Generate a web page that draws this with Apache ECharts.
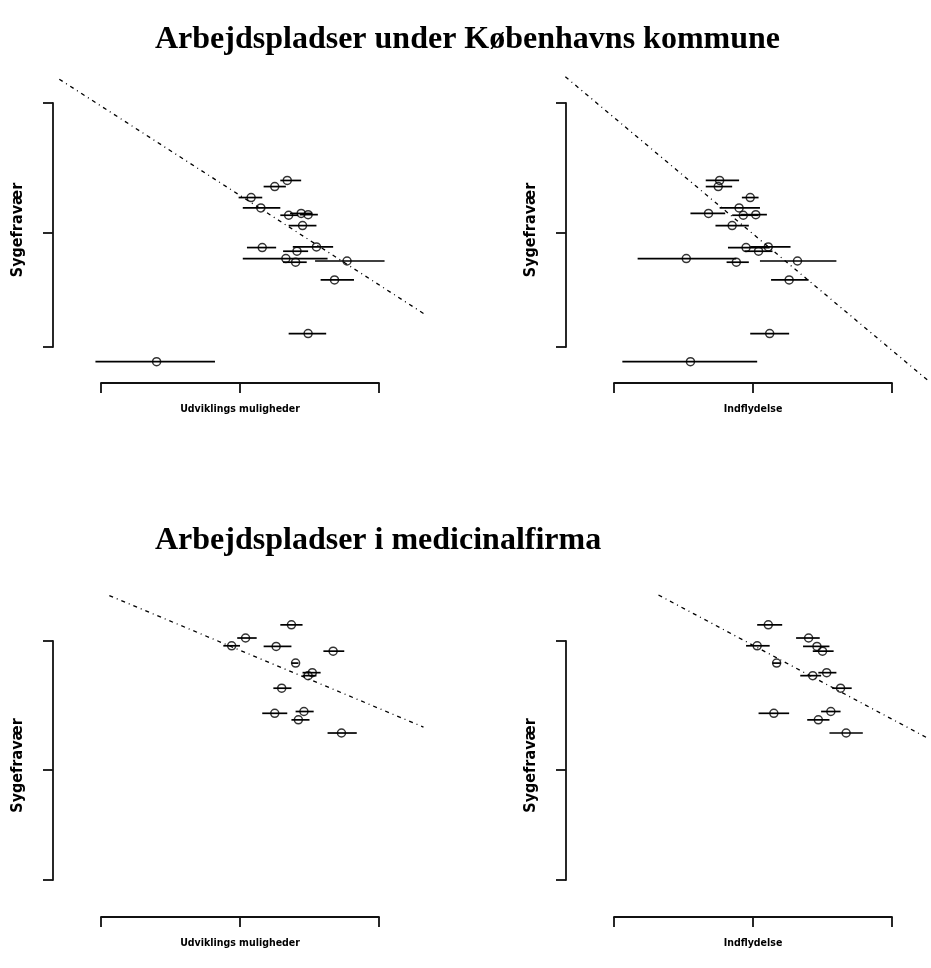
<!DOCTYPE html>
<html>
<head>
<meta charset="utf-8">
<script src="https://cdn.jsdelivr.net/npm/echarts@6/dist/echarts.min.js"></script>
<style>html,body{margin:0;padding:0;background:#fff;}#c{width:931px;height:968px;}</style>
</head>
<body>
<div id="c"></div>
<script>
// ---- Data ----
var titles = ['Arbejdspladser under Københavns kommune', 'Arbejdspladser i medicinalfirma'];
var xNames = ['Udviklings muligheder', 'Indflydelse'];
var yName = 'Sygefravær';
var xTicks = [2, 3, 4];
var yTicksTop = [3, 4.87, 7];
var yTicksBot = [3, 4.84, 7];

// Top row (Københavns kommune): shared sick-leave values
var topY = [5.73,5.63,5.45,5.28,5.19,5.16,5.17,4.99,4.63,4.64,4.57,4.45,4.39,4.41,4.10,3.22,2.76];
var udvTopX  = [3.34,3.25,3.08,3.15,3.44,3.35,3.49,3.45,3.16,3.55,3.41,3.33,3.40,3.77,3.68,3.49,2.40];
var udvTopLo = [3.29,3.17,2.99,3.02,3.36,3.29,3.43,3.35,3.05,3.38,3.31,3.02,3.31,3.54,3.58,3.35,1.96];
var udvTopHi = [3.44,3.33,3.16,3.29,3.52,3.42,3.56,3.55,3.26,3.67,3.49,3.63,3.48,4.04,3.82,3.62,2.82];
var indTopX  = [2.76,2.75,2.98,2.90,2.68,2.93,3.02,2.85,2.95,3.11,3.04,2.52,2.88,3.32,3.26,3.12,2.55];
var indTopLo = [2.66,2.66,2.92,2.76,2.55,2.85,2.91,2.73,2.82,2.98,2.94,2.17,2.81,3.05,3.13,2.98,2.06];
var indTopHi = [2.90,2.85,3.04,3.05,2.80,3.04,3.10,2.97,3.12,3.27,3.14,2.88,2.97,3.60,3.40,3.26,3.03];

// Bottom row (medicinalfirma)
var botY = [7.27,7.05,6.92,6.91,6.83,6.63,6.47,6.42,6.21,5.82,5.79,5.68,5.46];
var udvBotX  = [3.37,3.04,2.94,3.26,3.67,3.40,3.52,3.49,3.30,3.46,3.25,3.42,3.73];
var udvBotLo = [3.29,2.98,2.88,3.17,3.60,3.37,3.45,3.45,3.24,3.40,3.16,3.37,3.63];
var udvBotHi = [3.45,3.12,3.00,3.37,3.75,3.42,3.58,3.55,3.37,3.53,3.34,3.50,3.84];
var indBotX  = [3.11,3.40,3.03,3.46,3.50,3.17,3.53,3.43,3.63,3.56,3.15,3.47,3.67];
var indBotLo = [3.03,3.31,2.95,3.36,3.43,3.14,3.47,3.34,3.57,3.49,3.04,3.39,3.55];
var indBotHi = [3.21,3.48,3.12,3.55,3.58,3.20,3.60,3.49,3.71,3.63,3.26,3.55,3.79];

// Fitted lines (end points): [x1, y1, x2, y2]
var udvTopFit = [1.70, 7.39, 4.32, 3.55];
var indTopFit = [1.65, 7.43, 4.27, 2.43];
var udvBotFit = [2.06, 7.76, 4.32, 5.56];
var indBotFit = [2.32, 7.77, 4.26, 5.37];

// ---- Build ----
var panels = [
  {grid:{left:101, top:103, width:278, height:244}, xOff:36, name:xNames[0], yt:yTicksTop, y:topY, x:udvTopX, lo:udvTopLo, hi:udvTopHi, fit:udvTopFit},
  {grid:{left:614, top:103, width:278, height:244}, xOff:36, name:xNames[1], yt:yTicksTop, y:topY, x:indTopX, lo:indTopLo, hi:indTopHi, fit:indTopFit},
  {grid:{left:101, top:641, width:278, height:239}, xOff:37, name:xNames[0], yt:yTicksBot, y:botY, x:udvBotX, lo:udvBotLo, hi:udvBotHi, fit:udvBotFit},
  {grid:{left:614, top:641, width:278, height:239}, xOff:37, name:xNames[1], yt:yTicksBot, y:botY, x:indBotX, lo:indBotLo, hi:indBotHi, fit:indBotFit}
];

var axisCol = '#111';
var labelFont = "'DejaVu Sans Condensed', 'Liberation Sans', Arial, sans-serif";
var grids = [], xAxes = [], yAxes = [], series = [];
panels.forEach(function(p, i){
  grids.push(p.grid);
  xAxes.push({
    type:'value', gridIndex:i, min:xTicks[0], max:xTicks[xTicks.length-1], interval:1,
    offset:p.xOff, position:'bottom',
    axisLine:{show:true, lineStyle:{color:axisCol, width:1.8}},
    axisTick:{show:true, length:10, customValues:xTicks, lineStyle:{color:axisCol, width:1.8}},
    axisLabel:{show:false}, splitLine:{show:false},
    name:p.name, nameLocation:'middle', nameGap:21,
    nameTextStyle:{fontFamily:labelFont, fontWeight:'bold', fontSize:10.5, color:'#000'}
  });
  yAxes.push({
    type:'value', gridIndex:i, min:p.yt[0], max:p.yt[p.yt.length-1],
    offset:48, position:'left',
    axisLine:{show:true, lineStyle:{color:axisCol, width:1.8}},
    axisTick:{show:true, length:10, customValues:p.yt, lineStyle:{color:axisCol, width:1.8}},
    axisLabel:{show:false}, splitLine:{show:false},
    name:yName, nameLocation:'middle', nameGap:27,
    nameTextStyle:{fontFamily:labelFont, fontWeight:'bold', fontSize:16, color:'#000', padding:[0,10,0,0]}
  });
  var bars = p.x.map(function(v, k){ return [p.lo[k], p.hi[k], p.y[k]]; });
  var pts = p.x.map(function(v, k){ return [v, p.y[k]]; });
  series.push({
    type:'custom', xAxisIndex:i, yAxisIndex:i, data:bars, encode:{x:[0,1], y:2}, clip:false, silent:true,
    renderItem:function(params, api){
      var a = api.coord([api.value(0), api.value(2)]);
      var b = api.coord([api.value(1), api.value(2)]);
      return {type:'line', shape:{x1:a[0], y1:a[1], x2:b[0], y2:b[1]}, style:{stroke:'#000', lineWidth:1.7}};
    }
  });
  series.push({
    type:'scatter', xAxisIndex:i, yAxisIndex:i, data:pts, clip:false, silent:true,
    symbol:'circle', symbolSize:8,
    itemStyle:{color:'rgba(255,255,255,0)', borderColor:'#000', borderWidth:1.5}, z:3
  });
  series.push({
    type:'custom', xAxisIndex:i, yAxisIndex:i, data:[p.fit], encode:{x:[0,2], y:[1,3]}, clip:false, silent:true, z:1,
    renderItem:function(params, api){
      var a = api.coord([api.value(0), api.value(1)]);
      var b = api.coord([api.value(2), api.value(3)]);
      return {type:'line', shape:{x1:a[0], y1:a[1], x2:b[0], y2:b[1]},
        style:{stroke:'#000', lineWidth:1.3, lineDash:[4,4,1,4]}};
    }
  });
});

var chart = echarts.init(document.getElementById('c'), null, {renderer:'canvas'});
chart.setOption({
  animation:false,
  backgroundColor:'#fff',
  title:[
    {text:titles[0], left:155, top:24, padding:0, textStyle:{fontFamily:'Liberation Serif', fontWeight:'bold', fontSize:32, color:'#000'}},
    {text:titles[1], left:155, top:525, padding:0, textStyle:{fontFamily:'Liberation Serif', fontWeight:'bold', fontSize:32, color:'#000'}}
  ],
  grid:grids, xAxis:xAxes, yAxis:yAxes, series:series
});
</script>
</body>
</html>
